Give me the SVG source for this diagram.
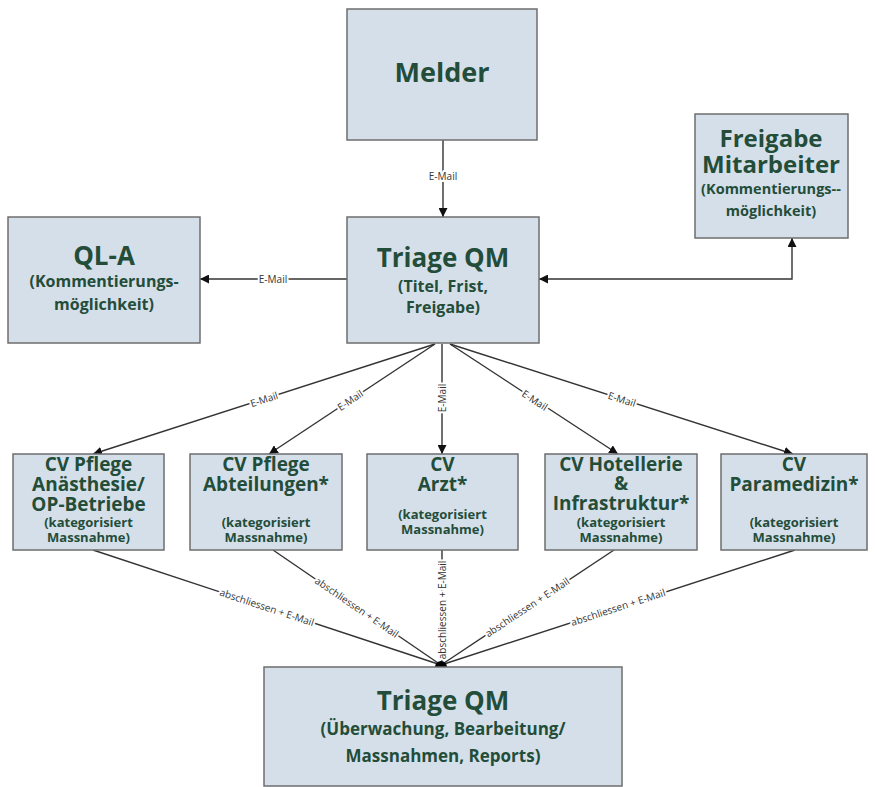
<svg xmlns="http://www.w3.org/2000/svg" width="875" height="787" viewBox="0 0 875 787">
<style>
.box{fill:#d5dfea;stroke:#6e6e6e;stroke-width:1.5}
.t{font-family:"Open Sans","Liberation Sans",sans-serif;font-weight:bold;fill:#234d39;text-anchor:middle}
.big{font-size:26px}
.mid{font-size:19px}
.sub{font-size:16px}
.sm{font-size:13px}
.ln{stroke:#333;stroke-width:1.4;fill:none}
.lbl{font-family:"Open Sans","Liberation Sans",sans-serif;font-size:10px;fill:#333;text-anchor:middle;dominant-baseline:central;paint-order:stroke;stroke:#fff;stroke-width:4px;stroke-linejoin:round}
</style>
<defs>
<marker id="ah" viewBox="0 0 10 10" refX="10" refY="5" markerWidth="9" markerHeight="9" markerUnits="userSpaceOnUse" orient="auto-start-reverse">
<path d="M0,0 L10,5 L0,10 z" fill="#111"/>
</marker>
</defs>
<g id="connectors">
<line class="ln" x1="443" y1="140" x2="443" y2="217" marker-end="url(#ah)"/>
<text class="lbl" x="443" y="176">E-Mail</text>
<line class="ln" x1="347" y1="279" x2="200" y2="279" marker-end="url(#ah)"/>
<text class="lbl" x="273" y="279">E-Mail</text>
<polyline class="ln" points="539,279 792,279 792,238" marker-start="url(#ah)" marker-end="url(#ah)"/>
<line class="ln" x1="435" y1="344" x2="93" y2="454" marker-end="url(#ah)"/>
<text class="lbl" transform="translate(264,399) rotate(-17.8)">E-Mail</text>
<line class="ln" x1="435" y1="344" x2="269" y2="454" marker-end="url(#ah)"/>
<text class="lbl" transform="translate(350,400) rotate(-33.5)">E-Mail</text>
<line class="ln" x1="442" y1="344" x2="442" y2="454" marker-end="url(#ah)"/>
<text class="lbl" transform="translate(442,398) rotate(-90)">E-Mail</text>
<line class="ln" x1="450" y1="344" x2="618" y2="454" marker-end="url(#ah)"/>
<text class="lbl" transform="translate(535,400) rotate(33.2)">E-Mail</text>
<line class="ln" x1="450" y1="344" x2="793" y2="454" marker-end="url(#ah)"/>
<text class="lbl" transform="translate(622,399) rotate(17.8)">E-Mail</text>
<line class="ln" x1="93" y1="550" x2="441" y2="665"/>
<text class="lbl" transform="translate(267,607) rotate(18.3)">abschliessen + E-Mail</text>
<line class="ln" x1="273" y1="550" x2="441" y2="665"/>
<text class="lbl" transform="translate(357,607) rotate(34.4)">abschliessen + E-Mail</text>
<line class="ln" x1="442" y1="550" x2="442" y2="665"/>
<text class="lbl" transform="translate(442,610) rotate(-90)">abschliessen + E-Mail</text>
<line class="ln" x1="614" y1="550" x2="441" y2="665"/>
<text class="lbl" transform="translate(527,607) rotate(-33.6)">abschliessen + E-Mail</text>
<line class="ln" x1="795" y1="550" x2="441" y2="665"/>
<text class="lbl" transform="translate(618,607) rotate(-18)">abschliessen + E-Mail</text>
<path d="M435,667 A6,6 0 0 1 447,667 z" fill="#000"/>
</g>
<g id="melder">
<rect class="box" x="347" y="9" width="190" height="131"/>
<text class="t big" x="442" y="82" style="font-size:27px">Melder</text>
</g>
<g id="freigabe">
<rect class="box" x="695" y="114" width="153" height="124"/>
<text class="t" x="771" y="147" style="font-size:24px">Freigabe</text>
<text class="t" x="771" y="173" style="font-size:24px">Mitarbeiter</text>
<text class="t" x="771" y="194" style="font-size:14.5px">(Kommentierungs--</text>
<text class="t" x="771" y="216" style="font-size:14.5px">möglichkeit)</text>
</g>
<g id="qla">
<rect class="box" x="8" y="217" width="192" height="126"/>
<text class="t big" x="104" y="265">QL-A</text>
<text class="t sub" x="104" y="287">(Kommentierungs-</text>
<text class="t sub" x="104" y="310">möglichkeit)</text>
</g>
<g id="triage">
<rect class="box" x="347" y="217" width="192" height="126"/>
<text class="t big" x="443" y="267">Triage QM</text>
<text class="t sub" x="443" y="292">(Titel, Frist,</text>
<text class="t sub" x="443" y="313">Freigabe)</text>
</g>
<g id="cv1">
<rect class="box" x="13" y="454" width="151" height="96"/>
<text class="t mid" x="88.5" y="471">CV Pflege</text>
<text class="t mid" x="88.5" y="491">Anästhesie/</text>
<text class="t mid" x="88.5" y="511">OP-Betriebe</text>
<text class="t sm" x="88.5" y="527">(kategorisiert</text>
<text class="t sm" x="88.5" y="542">Massnahme)</text>
</g>
<g id="cv2">
<rect class="box" x="190" y="454" width="152" height="96"/>
<text class="t mid" x="266" y="471">CV Pflege</text>
<text class="t mid" x="266" y="491">Abteilungen*</text>
<text class="t sm" x="266" y="527">(kategorisiert</text>
<text class="t sm" x="266" y="542">Massnahme)</text>
</g>
<g id="cv3">
<rect class="box" x="367" y="454" width="151" height="96"/>
<text class="t mid" x="442.5" y="471">CV</text>
<text class="t mid" x="442.5" y="491">Arzt*</text>
<text class="t sm" x="442.5" y="519">(kategorisiert</text>
<text class="t sm" x="442.5" y="534">Massnahme)</text>
</g>
<g id="cv4">
<rect class="box" x="545" y="454" width="152" height="96"/>
<text class="t mid" x="621" y="471">CV Hotellerie</text>
<text class="t mid" x="621" y="490">&amp;</text>
<text class="t mid" x="621" y="510">Infrastruktur*</text>
<text class="t sm" x="621" y="527">(kategorisiert</text>
<text class="t sm" x="621" y="542">Massnahme)</text>
</g>
<g id="cv5">
<rect class="box" x="721" y="454" width="146" height="96"/>
<text class="t mid" x="794" y="471">CV</text>
<text class="t mid" x="794" y="491">Paramedizin*</text>
<text class="t sm" x="794" y="527">(kategorisiert</text>
<text class="t sm" x="794" y="542">Massnahme)</text>
</g>
<g id="triage2">
<rect class="box" x="264" y="667" width="358" height="119"/>
<text class="t big" x="443" y="710">Triage QM</text>
<text class="t" x="443" y="735" style="font-size:17px">(Überwachung, Bearbeitung/</text>
<text class="t" x="443" y="762" style="font-size:17px">Massnahmen, Reports)</text>
</g>
</svg>
